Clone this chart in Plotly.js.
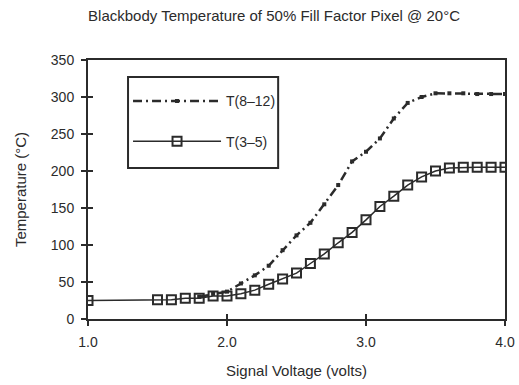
<!DOCTYPE html>
<html>
<head>
<meta charset="utf-8">
<script src="https://cdn.plot.ly/plotly-3.0.1.min.js"></script>
<style>html,body{margin:0;padding:0;background:#fff;}#chart{width:519px;height:385px;}</style>
</head>
<body>
<div id="chart"></div>
<script>
// Data
const voltsT35 = [1.0, 1.5, 1.6, 1.7, 1.8, 1.9, 2.0, 2.1, 2.2, 2.3, 2.4, 2.5, 2.6, 2.7, 2.8, 2.9, 3.0, 3.1, 3.2, 3.3, 3.4, 3.5, 3.6, 3.7, 3.8, 3.9, 4.0];
const tempT35  = [25, 26, 26, 28, 28, 31, 31, 34, 39, 47, 54, 62, 75, 88, 103, 117, 134, 152, 166, 181, 192, 200, 204, 205, 205, 205, 205];
const voltsT812 = [1.8, 1.9, 2.0, 2.1, 2.2, 2.3, 2.4, 2.5, 2.6, 2.7, 2.8, 2.9, 3.0, 3.1, 3.2, 3.3, 3.4, 3.5, 3.6, 3.7, 3.8, 3.9, 4.0];
const tempT812  = [30, 34, 37, 48, 59, 72, 93, 113, 130, 155, 181, 213, 226, 244, 271, 292, 300, 305, 305, 305, 304, 304, 304];
const xTicks = [1, 2, 3, 4];
const xTickLabels = ["1.0", "2.0", "3.0", "4.0"];
const yTicks = [0, 50, 100, 150, 200, 250, 300, 350];

const ink = '#2b2b2b';
const font = {family: 'Liberation Sans, Arial, sans-serif', color: ink};

const traces = [
  {
    x: voltsT812, y: tempT812, name: 'T(8–12)', type: 'scatter', mode: 'lines+markers',
    legendgroup: 'a',
    line: {color: ink, width: 2.5, dash: '9px,4px,2px,4px'},
    marker: {symbol: 'square', size: 4, color: ink}
  },
  {
    x: voltsT35, y: tempT35, name: 'T(3–5)', type: 'scatter', mode: 'lines+markers',
    legendgroup: 'b',
    line: {color: ink, width: 1.5},
    marker: {symbol: 'square-open', size: 9, color: ink, line: {width: 2, color: ink}}
  },
  // helper trace for the inside half of the crossing tick marks
  {x: [1, 4], y: [0, 350], xaxis: 'x2', yaxis: 'y2', mode: 'markers', marker: {opacity: 0}, showlegend: false, hoverinfo: 'skip'}
];

const layout = {
  width: 519, height: 385,
  margin: {l: 88, r: 14, t: 60, b: 66},
  paper_bgcolor: '#fff', plot_bgcolor: '#fff',
  font: Object.assign({size: 14}, font),
  title: {text: 'Blackbody Temperature of 50% Fill Factor Pixel @ 20°C', x: 0.528, xanchor: 'center', y: 0.958, yanchor: 'middle', font: Object.assign({}, font, {size: 15})},
  showlegend: true,
  legend: {
    x: 0.096, y: 0.902, xanchor: 'left', yanchor: 'top',
    borderwidth: 0, bgcolor: 'rgba(0,0,0,0)',
    itemwidth: 88, tracegroupgap: 19, traceorder: 'grouped',
    font: Object.assign({}, font, {size: 14})
  },
  shapes: [
    {type: 'rect', xref: 'paper', yref: 'paper', x0: 0.096, x1: 0.456, y0: 0.583, y1: 0.934,
     line: {color: ink, width: 2}, fillcolor: 'rgba(0,0,0,0)', layer: 'above'}
  ],
  xaxis: {
    range: [1, 4], tickvals: xTicks, ticktext: xTickLabels,
    showgrid: false, zeroline: false,
    showline: true, linecolor: ink, linewidth: 2, mirror: true,
    ticks: 'outside', ticklen: 5, tickwidth: 2, tickcolor: ink,
    ticklabelstandoff: 4,
    tickfont: Object.assign({}, font, {size: 14}),
    title: {text: 'Signal Voltage (volts)', standoff: 17, font: Object.assign({}, font, {size: 15})}
  },
  yaxis: {
    range: [0, 350], tickvals: yTicks,
    showgrid: false, zeroline: false,
    showline: true, linecolor: ink, linewidth: 2, mirror: true,
    ticks: 'outside', ticklen: 5, tickwidth: 2, tickcolor: ink,
    ticklabelstandoff: 4,
    tickfont: Object.assign({}, font, {size: 14}),
    title: {text: 'Temperature (°C)', standoff: 21, font: Object.assign({}, font, {size: 15})}
  },
  xaxis2: {
    overlaying: 'x', range: [1, 4], tickvals: xTicks, showticklabels: false,
    showgrid: false, zeroline: false, showline: false,
    ticks: 'inside', ticklen: 5, tickwidth: 2, tickcolor: ink, anchor: 'y2', side: 'bottom'
  },
  yaxis2: {
    overlaying: 'y', range: [0, 350], tickvals: yTicks, showticklabels: false,
    showgrid: false, zeroline: false, showline: false,
    ticks: 'inside', ticklen: 5, tickwidth: 2, tickcolor: ink, anchor: 'x2', side: 'left'
  }
};

Plotly.newPlot('chart', traces, layout, {displayModeBar: false, staticPlot: true});
</script>
</body>
</html>
